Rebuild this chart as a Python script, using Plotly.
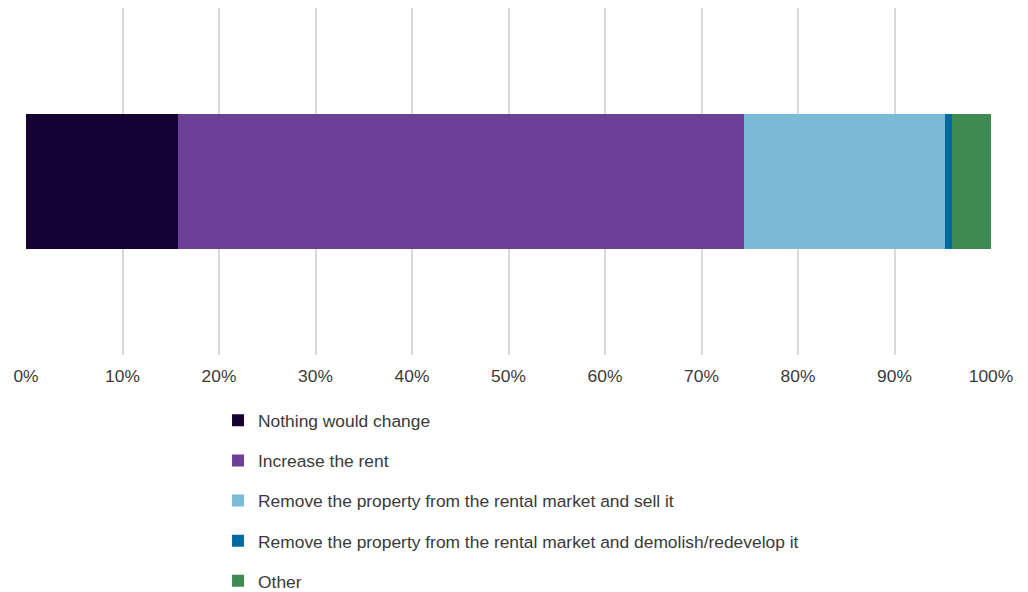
import plotly.graph_objects as go

categories = ["Nothing would change", "Increase the rent",
              "Remove the property from the rental market and sell it",
              "Remove the property from the rental market and demolish/redevelop it",
              "Other"]
values = [15.8, 58.6, 20.8, 0.8, 4.0]
colors = ["#140032", "#6C4096", "#7CBBD7", "#006AA0", "#3E8A50"]
tick_vals = [0, 10, 20, 30, 40, 50, 60, 70, 80, 90, 100]
tick_text = [f"{v}%" for v in tick_vals]

FONT = "Liberation Sans Narrow, Arial Narrow, Liberation Sans, Arial, sans-serif"
FS = 17.4
TXT = "#3a3a3a"

fig = go.Figure()
for i, (name, v, c) in enumerate(zip(categories, values, colors)):
    fig.add_trace(go.Bar(
        x=[v], y=["Q"], name=name, orientation="h",
        marker=dict(color=c, line=dict(width=0)),
        legendgroup=f"g{i}", hoverinfo="x+name",
    ))

fig.update_layout(
    barmode="stack",
    width=1028, height=592,
    margin=dict(l=18, r=45, t=0, b=245),
    paper_bgcolor="white", plot_bgcolor="white",
    bargap=0.611,
    font=dict(family=FONT, size=FS, color=TXT),
    xaxis=dict(range=[0, 100], tickvals=tick_vals, ticktext=tick_text,
               showgrid=True, gridcolor="#d9d9d9", gridwidth=2,
               zeroline=False, showline=False,
               ticks="outside", ticklen=5, tickcolor="rgba(0,0,0,0)",
               tickfont=dict(family=FONT, size=FS, color=TXT)),
    yaxis=dict(visible=False, range=[-0.5, 0.5]),
    showlegend=True,
    legend=dict(orientation="v", x=0.199, xanchor="left", y=-0.137, yanchor="top",
                traceorder="grouped", tracegroupgap=14.5,
                font=dict(family=FONT, size=FS, color=TXT),
                itemwidth=30, bgcolor="rgba(0,0,0,0)"),
)

fig.write_html("out.html")
